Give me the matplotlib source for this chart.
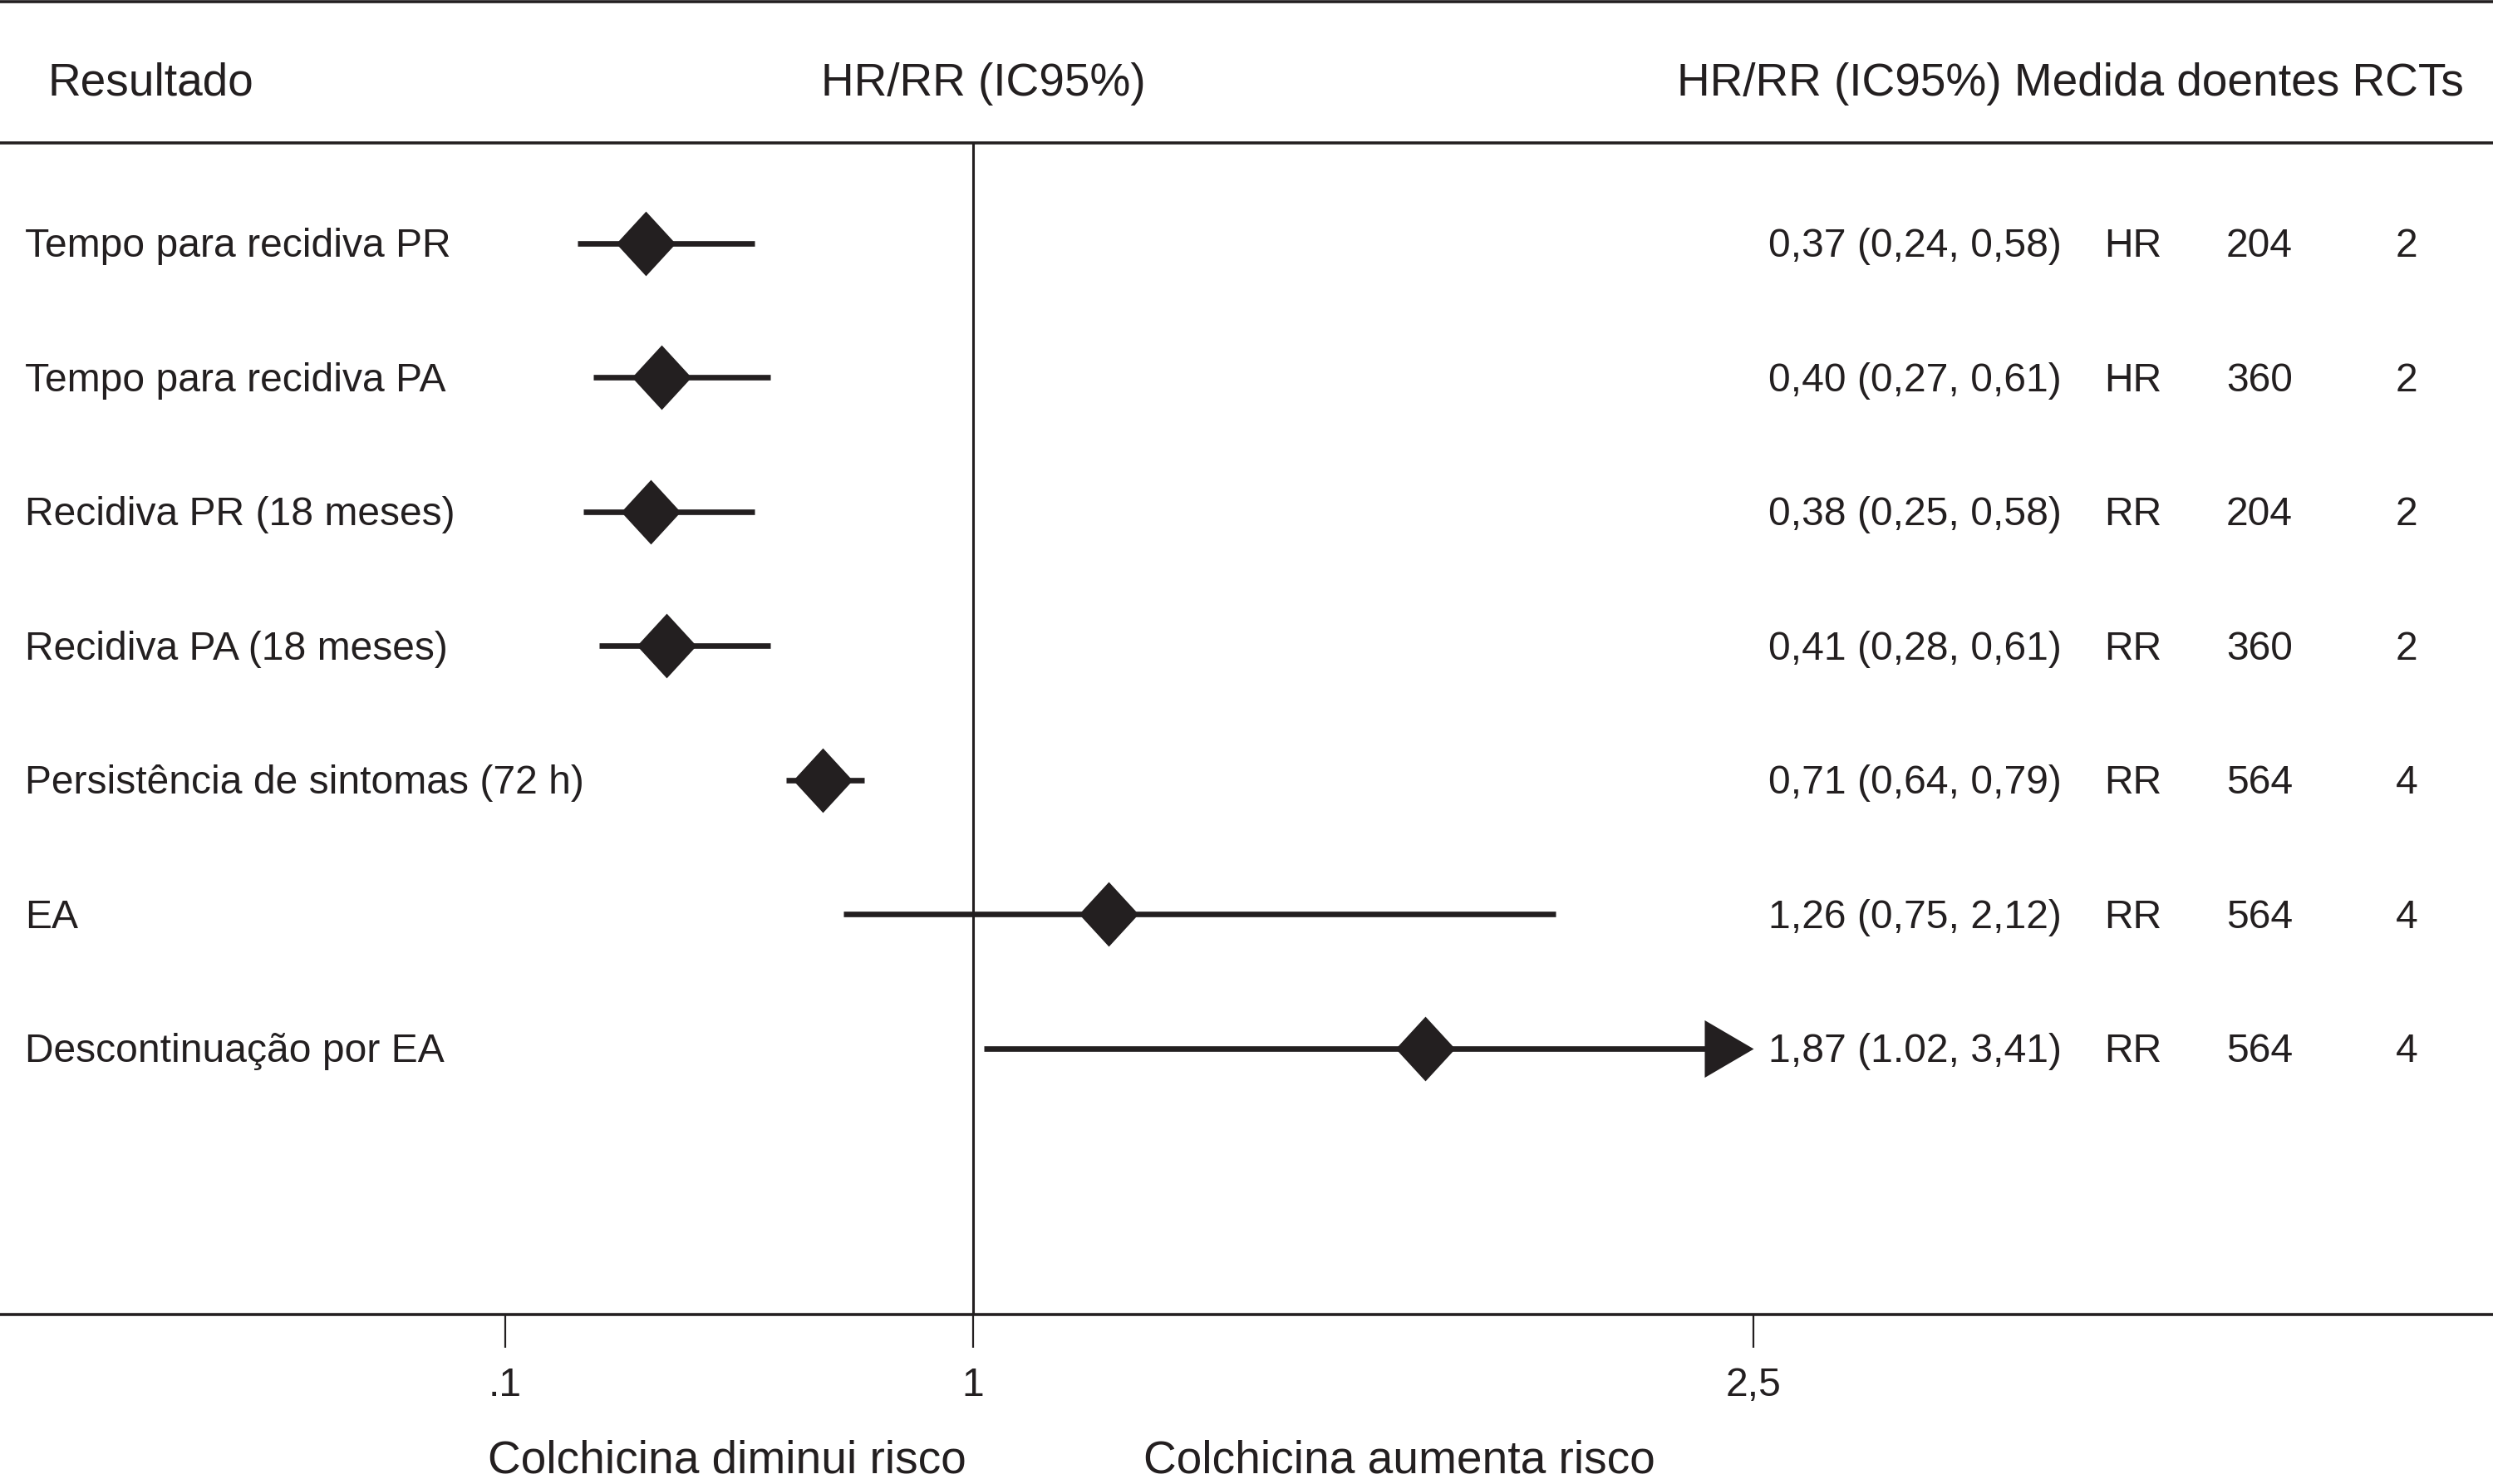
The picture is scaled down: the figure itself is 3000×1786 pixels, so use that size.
import numpy as np
import matplotlib as mpl
mpl.use('Agg')
from matplotlib import pyplot as plt

# fonts / colours
mpl.rcParams['font.family'] = ['Liberation Sans', 'DejaVu Sans']
fs_row = 34.6
fs_head = 39.6
c_ink = '#231f20'

# the data
labels = ['Tempo para recidiva PR', 'Tempo para recidiva PA',
          'Recidiva PR (18 meses)', 'Recidiva PA (18 meses)',
          'Persistência de sintomas (72 h)', 'EA', 'Descontinuação por EA']
est = [0.37, 0.40, 0.38, 0.41, 0.71, 1.26, 1.87]
lo = [0.24, 0.27, 0.25, 0.28, 0.64, 0.75, 1.02]
hi = [0.58, 0.61, 0.58, 0.61, 0.79, 2.12, 3.41]
est_text = ['0,37 (0,24, 0,58)', '0,40 (0,27, 0,61)', '0,38 (0,25, 0,58)',
            '0,41 (0,28, 0,61)', '0,71 (0,64, 0,79)', '1,26 (0,75, 2,12)',
            '1,87 (1.02, 3,41)']
measure = ['HR', 'HR', 'RR', 'RR', 'RR', 'RR', 'RR']
patients = [204, 360, 204, 360, 564, 564, 564]
rcts = [2, 2, 2, 2, 4, 4, 4]

xticks = [0.1, 1, 2.5]
xticklabels = ['.1', '1', '2,5']
x_max = 2.5

#####
# set up the figure: one axes across the whole canvas
fig = plt.figure(figsize=(30, 17.86), dpi=100)
ax = fig.add_axes([0, 0, 1, 1])
ax.axis('off')
ax.set_xlim(-0.8715, 3.923)
ax.set_ylim(10.245, -0.814)

rows = np.arange(1, len(labels) + 1)
tr = ax.get_yaxis_transform()  # x in axes fraction, y in rows

# frame lines
ax.axhline(-0.803, color=c_ink, lw=2.6, clip_on=False)
ax.axhline(0.251, color=c_ink, lw=2.6)
ax.axhline(8.98, color=c_ink, lw=2.6)
ax.vlines(1, 0.251, 8.98, color=c_ink, lw=2.2)

# ticks and tick labels
ax.vlines(xticks, 8.98, 9.23, color=c_ink, lw=1.6)
for xt, lab in zip(xticks, xticklabels):
    ax.text(xt, 9.588, lab, ha='center', va='baseline', fontsize=fs_row,
            color=c_ink)

# diamonds and arrows
diamond = [(0, 0.5), (0.46, 0), (0, -0.5), (-0.46, 0), (0, 0.5)]
arrow = [(0, 0), (-0.855, -0.5), (-0.855, 0.5), (0, 0)]
for y, e, l, h in zip(rows, est, lo, hi):
    if h > x_max:
        ax.plot([l, x_max - 0.05], [y, y], color=c_ink, lw=4.8,
                solid_capstyle='butt', zorder=2)
        ax.plot(x_max, y, marker=arrow, ms=85, color=c_ink, mew=0, zorder=3)
    else:
        ax.plot([l, h], [y, y], color=c_ink, lw=4.8,
                solid_capstyle='butt', zorder=2)
    ax.plot(e, y, marker=diamond, ms=56, color=c_ink, mew=0, zorder=4)

# header
ax.text(0.0193, -0.102, 'Resultado', transform=tr, fontsize=fs_head,
        va='baseline', color=c_ink)
ax.text(0.3945, -0.102, 'HR/RR (IC95%)', transform=tr, fontsize=fs_head,
        va='baseline', ha='center', color=c_ink)
ax.text(0.6727, -0.102, 'HR/RR (IC95%) Medida doentes RCTs', transform=tr,
        fontsize=fs_head, va='baseline', color=c_ink)

# row texts
for y, lab, et, m, n, k in zip(rows, labels, est_text, measure, patients, rcts):
    yb = y + 0.1
    ax.text(0.010, yb, lab, transform=tr, fontsize=fs_row, va='baseline',
            color=c_ink)
    ax.text(0.7093, yb, et, transform=tr, fontsize=fs_row, va='baseline',
            color=c_ink)
    ax.text(0.8440, yb, m, transform=tr, fontsize=fs_row, va='baseline',
            color=c_ink)
    ax.text(0.8930, yb, str(n), transform=tr, fontsize=fs_row, va='baseline',
            color=c_ink)
    ax.text(0.9610, yb, str(k), transform=tr, fontsize=fs_row, va='baseline',
            color=c_ink)

# bottom labels
ax.text(0.3877, 10.164, 'Colchicina diminui risco', transform=tr,
        fontsize=fs_head, va='baseline', ha='right', color=c_ink)
ax.text(0.4587, 10.164, 'Colchicina aumenta risco', transform=tr,
        fontsize=fs_head, va='baseline', ha='left', color=c_ink)

plt.savefig('out.png', dpi=100, facecolor='white')
plt.close()
